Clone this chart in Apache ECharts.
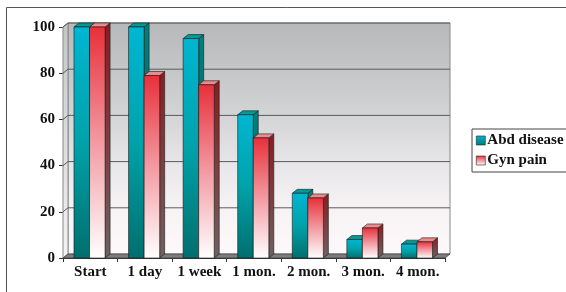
<!DOCTYPE html>
<html><head><meta charset="utf-8">
<script src="https://cdn.jsdelivr.net/npm/echarts@6/dist/echarts.min.js"></script>
<style>html,body{margin:0;padding:0;background:#fff}#c{width:566px;height:292px}</style>
</head><body><div id="c"></div>
<script>
const categories = ['Start', '1 day', '1 week', '1 mon.', '2 mon.', '3 mon.', '4 mon.'];
const abdDisease = [100, 100, 95, 62, 28, 8, 6];
const gynPain = [100, 79, 75, 52, 26, 13, 7];
const yTicks = [0, 20, 40, 60, 80, 100];

const DX = 5, DY = -4;
const FONT = 'Liberation Serif';

function lg(stops){ return {type:'linear',x:0,y:0,x2:0,y2:1,colorStops:stops.map(s=>({offset:s[0],color:s[1]}))}; }

const styles = [
  { front: lg([[0,'#00b6d2'],[0.5,'#00a2aa'],[1,'#006f6d']]),
    side: lg([[0,'#00807c'],[1,'#005c5a']]),
    top: '#009a96' },
  { front: lg([[0,'#e8303a'],[0.5,'#f39aa2'],[1,'#ffffff']]),
    side: lg([[0,'#8a1c20'],[1,'#6e6262']]),
    top: '#ee8a8e' }
];

function barRender(si){
  return function(params, api){
    const cat = api.value(0), v = api.value(1);
    const base = api.coord([cat, 0]);
    const tp = api.coord([cat, v]);
    const catW = api.size([1, 0])[0];
    const bw = catW * 0.285;
    const x0 = base[0] - bw + si * bw - 0.75;
    const x1 = x0 + bw;
    const y0 = tp[1], y1 = base[1];
    const st = styles[si];
    const stroke = {stroke:'#1a1a1a', lineWidth:0.6};
    return {type:'group', children:[
      {type:'polygon', shape:{points:[[x1,y0],[x1+DX,y0+DY],[x1+DX,y1+DY],[x1,y1]]}, style:Object.assign({fill:st.side}, stroke)},
      {type:'polygon', shape:{points:[[x0,y0],[x0+DX,y0+DY],[x1+DX,y0+DY],[x1,y0]]}, style:Object.assign({fill:st.top}, stroke)},
      {type:'rect', shape:{x:x0, y:y0, width:bw, height:y1-y0}, style:Object.assign({fill:st.front}, stroke)}
    ]};
  };
}

function wallRender(params, api){
  const cs = params.coordSys;
  const L = cs.x, T = cs.y, R = cs.x + cs.width, B = cs.y + cs.height;
  const children = [];
  children.push({type:'rect', shape:{x:L+DX, y:T+DY, width:R-L, height:B-T},
    style:{fill:lg([[0,'#b7b8ba'],[0.35,'#cfd0d2'],[0.6,'#e6e5e8'],[0.8,'#f7f3f5'],[1,'#fdf8fa']]), stroke:'#888', lineWidth:1}});
  children.push({type:'polygon', shape:{points:[[L,T],[L+DX,T+DY],[L+DX,B+DY],[L,B]]},
    style:{fill:lg([[0,'#c4c5c7'],[1,'#f4f4f4']]), stroke:'#888', lineWidth:1}});
  yTicks.forEach(function(t){
    if (t === 0) return;
    const y = api.coord([0, t])[1];
    children.push({type:'polyline', shape:{points:[[L,y],[L+DX,y+DY],[R+DX,y+DY]]},
      style:{stroke:'#5a5a5a', lineWidth:1, fill:null}});
  });
  children.push({type:'polygon', shape:{points:[[L,B],[L+DX,B+DY],[R+DX,B+DY],[R,B]]},
    style:{fill:'#7d7d7d', stroke:'#444', lineWidth:0.8}});
  return {type:'group', children:children};
}

const chart = echarts.init(document.getElementById('c'), null, {renderer:'canvas'});
chart.setOption({
  animation:false,
  backgroundColor:'#ffffff',
  graphic:[{type:'rect', shape:{x:6.5, y:7.5, width:700, height:400}, style:{fill:null, stroke:'#555', lineWidth:1}, z:-10}],
  grid:{left:63, right:121, top:27, bottom:34},
  xAxis:{type:'category', data:categories, boundaryGap:true,
    axisLine:{lineStyle:{color:'#333', width:1}},
    axisTick:{show:true, length:4, lineStyle:{color:'#333'}},
    axisLabel:{interval:0, hideOverlap:false, fontFamily:FONT, fontWeight:'bold', fontSize:15, color:'#111', margin:7}},
  yAxis:{type:'value', min:0, max:100, interval:20,
    axisLine:{show:true, lineStyle:{color:'#888', width:1}},
    axisTick:{show:true, length:4, lineStyle:{color:'#333'}},
    splitLine:{show:false},
    axisLabel:{fontFamily:FONT, fontWeight:'bold', fontSize:15, color:'#111', margin:8}},
  legend:{orient:'vertical', left:472, top:129, padding:[3,12,3,4], itemGap:3,
    itemWidth:9, itemHeight:9, borderColor:'#444', borderWidth:1, backgroundColor:'#fff',
    textStyle:{fontFamily:FONT, fontWeight:'bold', fontSize:15, color:'#111', lineHeight:17, padding:[0,0,0,-3]},
    data:[
      {name:'Abd disease', icon:'rect', itemStyle:{color:lg([[0,'#00b6d2'],[1,'#007a78']]), borderColor:'#222', borderWidth:0.6}},
      {name:'Gyn pain', icon:'rect', itemStyle:{color:lg([[0,'#e8303a'],[1,'#ffffff']]), borderColor:'#222', borderWidth:0.6}}
    ]},
  series:[
    {type:'custom', name:'walls', silent:true, renderItem:wallRender, data:[[0,0]], z:1},
    {type:'custom', name:'Abd disease', renderItem:barRender(0), data:abdDisease.map((v,i)=>[i,v]), z:2,
      itemStyle:{color:'#00a2aa'}},
    {type:'custom', name:'Gyn pain', renderItem:barRender(1), data:gynPain.map((v,i)=>[i,v]), z:2,
      itemStyle:{color:'#f07078'}}
  ]
});
</script>
</body></html>
